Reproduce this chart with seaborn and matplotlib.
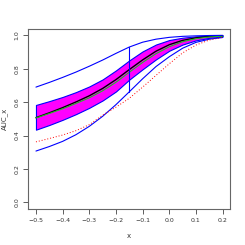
import numpy as np
import pandas as pd
import matplotlib
matplotlib.use("Agg")
import matplotlib.pyplot as plt
import seaborn as sns

# values
x = [-0.5, -0.45, -0.4, -0.35, -0.3, -0.25, -0.2, -0.15, -0.1, -0.05, 0.0, 0.05, 0.1, 0.15, 0.2]
auc_mid = [0.507, 0.536, 0.567, 0.601, 0.638, 0.682, 0.735, 0.795, 0.853, 0.905, 0.944, 0.970, 0.985, 0.993, 0.997]
auc_true = [0.505, 0.532, 0.560, 0.592, 0.626, 0.668, 0.719, 0.779, 0.838, 0.890, 0.932, 0.962, 0.980, 0.990, 0.995]
band_hi = [0.583, 0.606, 0.631, 0.660, 0.694, 0.736, 0.790, 0.850, 0.904, 0.945, 0.972, 0.986, 0.994, 0.998, 1.000]
band_lo = [0.435, 0.463, 0.494, 0.528, 0.566, 0.610, 0.664, 0.735, 0.797, 0.856, 0.908, 0.945, 0.970, 0.985, 0.993]
outer_hi = [0.690, 0.718, 0.748, 0.780, 0.815, 0.852, 0.892, 0.930, 0.959, 0.977, 0.988, 0.994, 0.997, 0.999, 1.000]
outer_lo = [0.307, 0.334, 0.365, 0.405, 0.455, 0.515, 0.585, 0.662, 0.740, 0.813, 0.872, 0.923, 0.958, 0.977, 0.987]
auc_alt = [0.362, 0.382, 0.403, 0.429, 0.465, 0.522, 0.570, 0.623, 0.690, 0.760, 0.830, 0.895, 0.942, 0.972, 0.988]
x_mark = -0.15
mark_lo, mark_hi = 0.662, 0.930

df = pd.DataFrame({"x": x, "mid": auc_mid, "true": auc_true, "hi": outer_hi,
                   "lo": outer_lo, "alt": auc_alt})

sns.set_style("white")
plt.rcParams["font.family"] = ["DejaVu Sans"]

fig = plt.figure(figsize=(2.45, 2.45), dpi=100)
ax = fig.add_axes([0.1163, 0.147, 0.823, 0.736])

ax.fill_between(x, band_lo, band_hi, facecolor="magenta", edgecolor="blue", linewidth=0.8)
sns.lineplot(data=df, x="x", y="mid", color="black", linewidth=1.0, ax=ax)
sns.lineplot(data=df, x="x", y="true", color="#22bb22", linewidth=0.8, ax=ax)
sns.lineplot(data=df, x="x", y="hi", color="blue", linewidth=0.8, ax=ax)
sns.lineplot(data=df, x="x", y="lo", color="blue", linewidth=0.8, ax=ax)
sns.lineplot(data=df, x="x", y="alt", color="red", linewidth=0.7, linestyle=(0, (1, 2)), ax=ax)
ax.plot([x_mark, x_mark], [mark_lo, mark_hi], color="blue", linewidth=0.8)

ax.set_xlim(-0.528, 0.228)
ax.set_ylim(-0.04, 1.04)
ax.set_xticks([-0.5, -0.4, -0.3, -0.2, -0.1, 0.0, 0.1, 0.2])
ax.set_xticklabels(["\u22120.5", "\u22120.4", "\u22120.3", "\u22120.2", "\u22120.1", "0.0", "0.1", "0.2"])
ax.set_yticks([0.0, 0.2, 0.4, 0.6, 0.8, 1.0])
ax.set_yticklabels(["0.0", "0.2", "0.4", "0.6", "0.8", "1.0"], rotation=90, va="center")
ax.tick_params(axis="both", direction="out", length=3.5, width=0.6, labelsize=4.5,
               color="#444444", labelcolor="#333333", pad=3, left=True, bottom=True)
for s in ax.spines.values():
    s.set_color("#666666")
    s.set_linewidth(0.8)

ax.set_xlabel("x", fontsize=5, color="#333333", labelpad=7)
ax.set_ylabel("AUC_x", fontsize=5, color="#333333", labelpad=5)

fig.savefig("out.png", dpi=100)
